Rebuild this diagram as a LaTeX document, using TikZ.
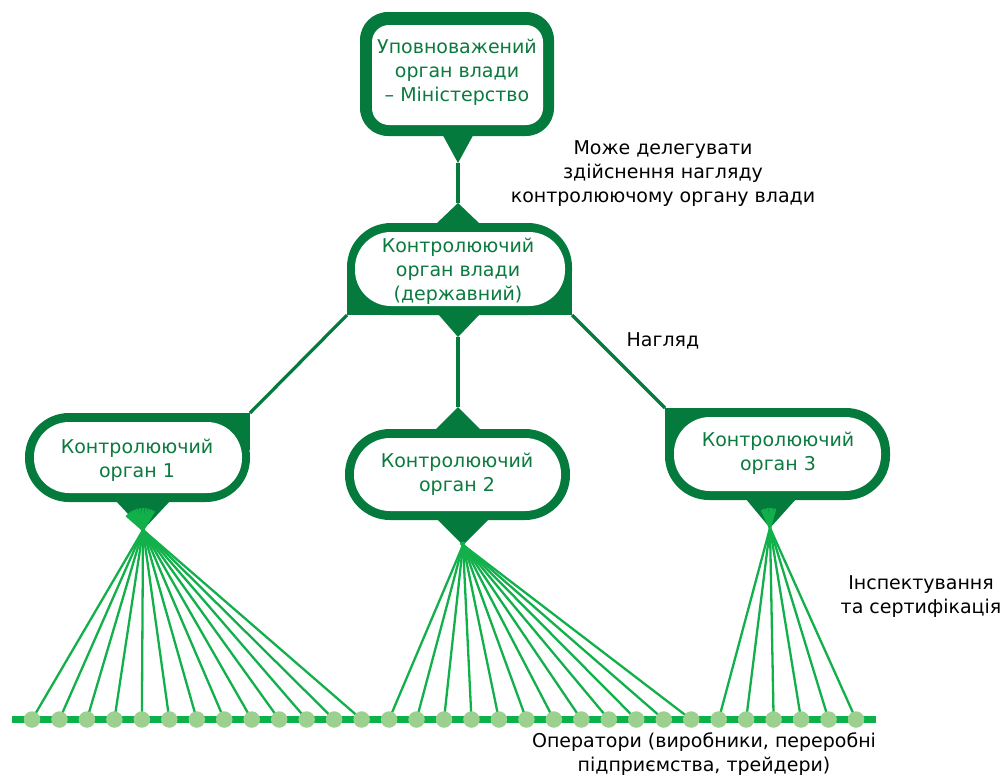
\documentclass[tikz,border=0pt]{standalone}
\usepackage{fontspec}
\setmainfont{DejaVu Sans}
\usetikzlibrary{calc}
\definecolor{dkgreen}{HTML}{047A3D}
\definecolor{txtgreen}{HTML}{0B7A3F}
\definecolor{fangreen}{HTML}{12B04B}
\definecolor{bargreen}{HTML}{0CB14B}
\definecolor{dotgreen}{HTML}{9BD08F}
\begin{document}
\begin{tikzpicture}[x=1pt,y=-1pt,
  shell/.style={fill=dkgreen},
  core/.style={fill=white},
  boxtext/.style={text=txtgreen, align=center, font=\fontsize{19}{24}\selectfont, inner sep=0pt},
  note/.style={text=black, align=center, font=\fontsize{19}{24}\selectfont, inner sep=0pt},
  link/.style={draw=dkgreen, line width=3.2pt},
  fanline/.style={draw=fangreen, line width=2.3pt},
  opdot/.style={circle, fill=dotgreen, minimum size=16.5pt, inner sep=0pt, draw=none},
  bar/.style={draw=bargreen, line width=7pt}]
\useasboundingbox (0,0) rectangle (1003,777);

% named anchor points
\coordinate (minTip) at (458,163);
\coordinate (midTop) at (458,203);
\coordinate (midBot) at (458,337);
\coordinate (midBL) at (347,315);
\coordinate (midBR) at (572,315);
\coordinate (o1TR) at (250,413);
\coordinate (o1Tip) at (143,530);
\coordinate (o2Top) at (458,407);
\coordinate (o2Tip) at (463,545);
\coordinate (o3TL) at (665,408);
\coordinate (o3Tip) at (770,528);
\coordinate (barL) at (12,719.5);
\coordinate (barR) at (876,719.5);

% connectors
\draw[link] (minTip) -- (midTop);
\draw[link] (midBot) -- (o2Top);
\draw[link] (midBL) -- (o1TR);
\draw[link] (midBR) -- (o3TL);

% top node
\fill[shell, rounded corners=28pt] (360,12) rectangle (554,136);
\fill[shell] (440,130) -- (minTip) -- (476,130) -- cycle;
\fill[core, rounded corners=17pt] (372,25) rectangle (543,125);
\node[boxtext] (min) at (457,72) {Уповноважений\\орган влади\\ – Міністерство};

% middle node
\fill[shell, rounded corners=44pt] (347,223) rectangle (572,315);
\fill[shell] (347,270) rectangle (572,315);
\fill[shell] (436,224) -- (midTop) -- (480,224) -- cycle;
\fill[shell] (438,314) -- (midBot) -- (480,314) -- cycle;
\fill[core, rounded corners=36pt] (355,232) rectangle (565,306);
\node[boxtext] (state) at (458,271) {Контролюючий\\орган влади\\(державний)};

% organ 1
\fill[shell, rounded corners=44pt] (25,413) rectangle (250,502);
\fill[shell] (200,413) rectangle (250,450);
\fill[shell] (115,500) -- (o1Tip) -- (171,500) -- cycle;
\fill[core, rounded corners=35pt] (34,422) rectangle (242,493);
\node[boxtext] (org1) at (137,460) {Контролюючий\\орган 1};

% organ 2
\fill[shell, rounded corners=45pt] (345,429) rectangle (570,520);
\fill[shell] (435,430) -- (o2Top) -- (481,430) -- cycle;
\fill[shell] (437,519) -- (o2Tip) -- (489,519) -- cycle;
\fill[core, rounded corners=36pt] (354,438) rectangle (561,511);
\node[boxtext] (org2) at (457,474) {Контролюючий\\орган 2};

% organ 3
\fill[shell, rounded corners=44pt] (665,408) rectangle (890,500);
\fill[shell] (665,408) rectangle (715,450);
\fill[shell] (745,498) -- (o3Tip) -- (797,498) -- cycle;
\fill[core, rounded corners=36pt] (674,417) rectangle (881,491);
\node[boxtext] (org3) at (778,453) {Контролюючий\\орган 3};

% operators
\foreach \i in {1,...,31} {
  \coordinate (p\i) at ({32+(\i-1)*27.467},719.5);
}
\foreach \i in {1,...,13} {
  \draw[fanline] (p\i) -- ($(o1Tip)!-22pt!(p\i)$);
}
\foreach \i in {14,...,25} {
  \draw[fanline] (p\i) -- ($(o2Tip)!-3pt!(p\i)$);
}
\foreach \i in {26,...,31} {
  \draw[fanline] (p\i) -- ($(o3Tip)!-20pt!(p\i)$);
}
\draw[bar] (barL) -- (barR);
\foreach \i in {1,...,31} {
  \node[opdot] (d\i) at (p\i) {};
}

% labels
\node[note] (deleg) at (663,174) {Може делегувати\\здійснення нагляду\\контролюючому органу влади};
\node[note] (nagl) at (663,341) {Нагляд};
\node[note] (insp) at (921,597) {Інспектування\\та сертифікація};
\node[note, anchor=north] (oper) at (704,733) {Оператори (виробники, переробні\\підприємства, трейдери)};
\end{tikzpicture}
\end{document}
